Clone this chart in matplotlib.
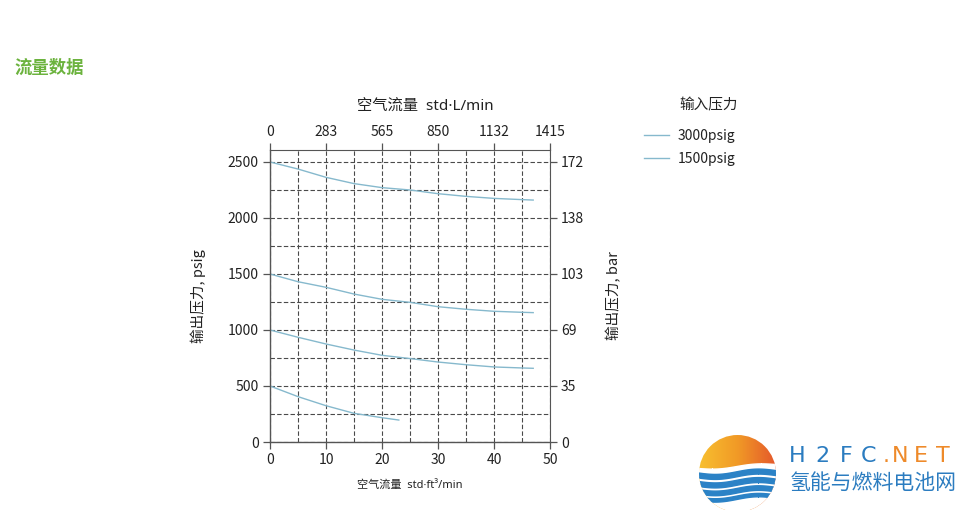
import numpy as np
import matplotlib
matplotlib.use('Agg')
import matplotlib.pyplot as plt
from matplotlib.patches import Circle
from matplotlib.ticker import MultipleLocator
from matplotlib.colors import LinearSegmentedColormap

plt.rcParams['font.family'] = ['Noto Sans CJK SC', 'DejaVu Sans']

# ---- data (flow in std ft^3/min, outlet pressure in psig) ----
flow_a = [0, 5, 10, 15, 20, 25, 30, 35, 40, 45, 47]
out_2500 = [2500, 2437, 2363, 2307, 2271, 2250, 2217, 2193, 2175, 2164, 2160]
out_1500 = [1500, 1431, 1381, 1321, 1274, 1247, 1208, 1185, 1167, 1158, 1155]
out_1000 = [1000, 935, 875, 821, 774, 745, 714, 690, 670, 661, 658]
flow_b = [0, 5, 10, 15, 20, 23]
out_500 = [500, 405, 324, 256, 217, 196]

top_ticks = [0, 10, 20, 30, 40, 50]
top_labels = ['0', '283', '565', '850', '1132', '1415']
right_ticks = [0, 500, 1000, 1500, 2000, 2500]
right_labels = ['0', '35', '69', '103', '138', '172']

W, H = 968, 512
fig = plt.figure(figsize=(W / 100, H / 100), dpi=100)

def px(x0, y0, x1, y1):
    # pixel box (top-left origin) -> figure fraction rect
    return [x0 / W, 1 - y1 / H, (x1 - x0) / W, (y1 - y0) / H]

curve_c = '#86b9cd'
grid_c = '#4a4a4a'
spine_c = '#555555'
txt_c = '#222222'
lat_cjk = ['Noto Sans', 'Noto Sans CJK SC']  # narrow middle dot from Noto Sans

ax = fig.add_axes(px(270, 150, 550, 442))
ax.set_xlim(0, 50)
ax.set_ylim(0, 2607)

ax.plot(flow_a, out_2500, color=curve_c, lw=1.0, label='3000psig')
ax.plot(flow_a, out_1500, color=curve_c, lw=1.0)
ax.plot(flow_a, out_1000, color=curve_c, lw=1.0, label='1500psig')
ax.plot(flow_b, out_500, color=curve_c, lw=1.0)

ax.xaxis.set_major_locator(MultipleLocator(10))
ax.xaxis.set_minor_locator(MultipleLocator(5))
ax.yaxis.set_major_locator(MultipleLocator(500))
ax.yaxis.set_minor_locator(MultipleLocator(250))
ax.grid(True, which='both', color=grid_c, ls=(0, (4, 2)), lw=0.8)
ax.tick_params(which='minor', length=0)
ax.tick_params(which='major', length=5, width=0.9, color=spine_c,
               labelsize=10, labelcolor=txt_c, pad=3)
for side, s in ax.spines.items():
    s.set_color(spine_c)
    s.set_linewidth(1.0)
    s.set_visible(side in ('left', 'bottom'))

ax.set_xlabel('空气流量  std·ft³/min', fontsize=8, color=txt_c, labelpad=9,
              family=lat_cjk)
ax.set_ylabel('输出压力, psig', fontsize=10.5, color=txt_c, labelpad=16)

axt = ax.twiny()
axt.set_xlim(0, 50)
axt.set_xticks(top_ticks)
axt.set_xticklabels(top_labels)
axt.tick_params(length=5, width=0.9, color=spine_c, labelsize=10,
                labelcolor=txt_c, pad=3)
axt.set_xlabel('空气流量  std·L/min', fontsize=11, color=txt_c, family=lat_cjk)
axt.xaxis.set_label_coords(0.554, 1.137)

axr = ax.twinx()
axr.set_ylim(0, 2607)
axr.set_yticks(right_ticks)
axr.set_yticklabels(right_labels)
axr.tick_params(length=5, width=0.9, color=spine_c, labelsize=10,
                labelcolor=txt_c, pad=3)
axr.set_ylabel('输出压力, bar', fontsize=10.5, color=txt_c, labelpad=16)
for side, s in axt.spines.items():
    s.set_color(spine_c)
    s.set_visible(side == 'top')
for side, s in axr.spines.items():
    s.set_color(spine_c)
    s.set_visible(side == 'right')

leg = ax.legend(loc='upper left', bbox_to_anchor=(637 / W, 1 - 122 / H),
                bbox_transform=fig.transFigure, frameon=False, fontsize=10,
                handlelength=1.8, handletextpad=0.6, labelspacing=0.62,
                borderpad=0)
for t in leg.get_texts():
    t.set_color(txt_c)
fig.text(709 / W, 1 - 105 / H, '输入压力', fontsize=10.5, color=txt_c,
         ha='center', va='center')

fig.text(14 / W, 1 - 68 / H, '流量数据', color='#6cb33e', fontsize=12.5,
         fontweight='black', va='center', ha='left')

# ---- logo (bottom right) ----
lax = fig.add_axes(px(695, 428, 782, 510))
lax.set_xlim(695, 782)
lax.set_ylim(510, 428)
lax.set_axis_off()
sun_cmap = LinearSegmentedColormap.from_list('sun', ['#f8c030', '#f19a26', '#e4572b'])
im = lax.imshow(np.tile(np.linspace(0, 1, 100), (100, 1)), cmap=sun_cmap,
                extent=[698, 777, 510, 434], aspect='auto')
circ = Circle((737.5, 473.5), 38.5, transform=lax.transData)
im.set_clip_path(circ)

xs = np.linspace(697, 779, 200)
phase = (xs - 698) / 77 * 2 * np.pi
edge = 468 - 4 * (xs - 698) / 77 + 1.5 * np.sin(phase)
cover = lax.fill_between(xs, edge, 512, color='white', zorder=3)
cover.set_clip_path(circ)
bands = [(475.0, 5.0), (483.5, 5.0), (491.5, 4.6), (498.5, 3.4)]
for yc, th in bands:
    yy = yc - 2.5 * (xs - 698) / 77 + 2.0 * np.sin(phase)
    b = lax.fill_between(xs, yy - th / 2, yy + th / 2, color='#2b82c6', zorder=4)
    b.set_clip_path(circ)

logo_blue = '#2b7cc0'
logo_orange = '#ee8a2a'
chars = ['H', '2', 'F', 'C', '.', 'N', 'E', 'T']
cx = [797, 822, 846, 869, 886, 900, 921, 943]
for ch, x in zip(chars, cx):
    col = logo_blue if ch in 'H2FC' else logo_orange
    fig.text(x / W, 1 - 456 / H, ch, color=col, fontsize=16, ha='center',
             va='center', family='DejaVu Sans')
fig.text(873 / W, 1 - 483 / H, '氢能与燃料电池网', color=logo_blue,
         fontsize=15, ha='center', va='center')

fig.savefig('out.png', dpi=100)
